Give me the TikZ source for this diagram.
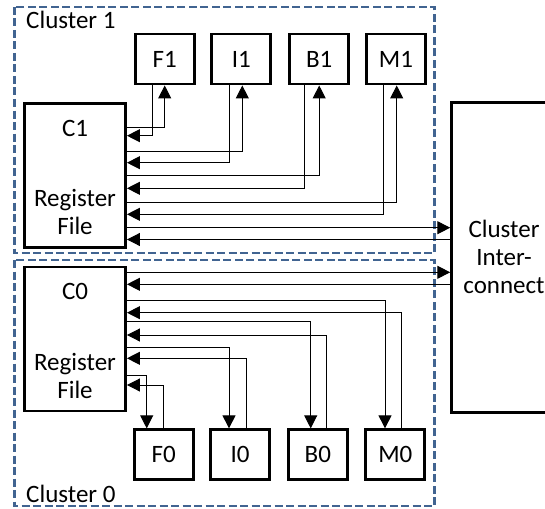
\documentclass[tikz,border=0pt]{standalone}
\usepackage{fontspec}
\setmainfont{Carlito}
\usetikzlibrary{arrows.meta}
\definecolor{clusterblue}{RGB}{65,100,145}
\begin{document}
\begin{tikzpicture}[x=1pt,y=-1pt,
  font=\fontsize{25}{28}\selectfont,
  unit/.style={draw,line width=2.9pt,inner sep=0pt,minimum width=59pt,minimum height=50pt},
  regfile/.style={draw,line width=2.9pt,inner sep=0pt,minimum width=101pt,minimum height=144pt},
  cluster/.style={draw=clusterblue,line width=2.7pt,dash pattern=on 8pt off 3.5pt},
  wire/.style={line width=1pt,-{Triangle[length=13pt,width=13pt]}},
  lbl/.style={inner sep=0pt}]
\useasboundingbox (0,0) rectangle (545,508);
\clip (0,0) rectangle (545,508);

% cluster outlines
\draw[cluster] (14.5,7) rectangle (434.5,253);
\draw[cluster] (14.5,260) rectangle (434.5,506);
\node[lbl,anchor=base west] (cl1) at (26,28.5) {Cluster 1};
\node[lbl,anchor=base west] (cl0) at (26,502) {Cluster 0};

% interconnect (runs off the right edge)
\node[draw,line width=2.9pt,minimum width=104.6pt,minimum height=310pt,align=center,inner sep=0pt]
  (ic) at (504,257.3) {Cluster\\Inter-\\connect};

% cluster 1 units
\node[regfile] (c1) at (75,175.3) {};
\node[lbl] (c1n) at (75,128) {C1};
\node[lbl,align=center] (c1r) at (75,212) {Register\\File};
\node[unit] (f1) at (164.7,59) {F1};
\node[unit] (i1) at (241.3,59) {I1};
\node[unit] (b1) at (319.2,59) {B1};
\node[unit] (m1) at (395.9,59) {M1};

% cluster 0 units
\node[regfile] (c0) at (75,339) {};
\node[lbl] (c0n) at (75,291) {C0};
\node[lbl,align=center] (c0r) at (75,376) {Register\\File};
\node[unit] (f0) at (163.7,454.8) {F0};
\node[unit] (i0) at (240,454.8) {I0};
\node[unit] (b0) at (317.8,454.8) {B0};
\node[unit] (m0) at (395.3,454.8) {M0};

% cluster 1 wiring
\draw[wire] (c1.east |- 0,127.7) -| (f1.south);
\draw[wire] ([xshift=-12.4pt]f1.south) |- (c1.east |- 0,135.7);
\draw[wire] (c1.east |- 0,151.7) -| ([xshift=1pt]i1.south);
\draw[wire] ([xshift=-12.3pt]i1.south) |- (c1.east |- 0,162.7);
\draw[wire] (c1.east |- 0,175.7) -| (b1.south);
\draw[wire] ([xshift=-15pt]b1.south) |- (c1.east |- 0,188.3);
\draw[wire] (c1.east |- 0,202.3) -| ([xshift=0.8pt]m1.south);
\draw[wire] ([xshift=-12.6pt]m1.south) |- (c1.east |- 0,214.3);
\draw[wire] (c1.east |- 0,227.7) -- (ic.west |- 0,227.7);
\draw[wire] (ic.west |- 0,239.5) -- (c1.east |- 0,239.5);

% cluster 0 wiring
\draw[wire] (c0.east |- 0,272.3) -- (ic.west |- 0,272.3);
\draw[wire] (ic.west |- 0,284.3) -- (c0.east |- 0,284.3);
\draw[wire] (c0.east |- 0,300) -| ([xshift=-10.3pt]m0.north);
\draw[wire] ([xshift=6.4pt]m0.north) |- (c0.east |- 0,312.7);
\draw[wire] (c0.east |- 0,321.7) -| ([xshift=-7.1pt]b0.north);
\draw[wire] ([xshift=8.9pt]b0.north) |- (c0.east |- 0,335);
\draw[wire] (c0.east |- 0,347.3) -| ([xshift=-11pt]i0.north);
\draw[wire] ([xshift=6.7pt]i0.north) |- (c0.east |- 0,358.3);
\draw[wire] (c0.east |- 0,375.7) -| ([xshift=-17pt]f0.north);
\draw[wire] ([xshift=-0.4pt]f0.north) |- (c0.east |- 0,385);
\end{tikzpicture}
\end{document}
